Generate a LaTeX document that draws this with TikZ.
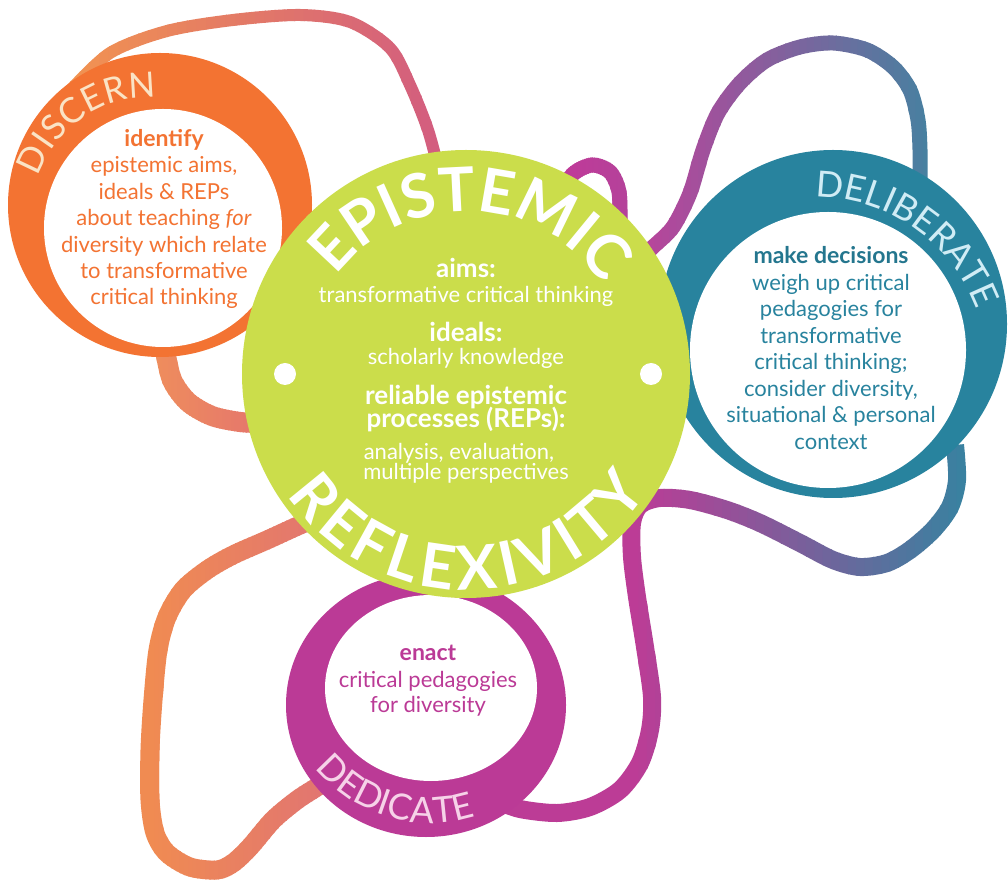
\documentclass[tikz,border=0pt]{standalone}
\usepackage{fontspec}
\setmainfont{Lato}
\usetikzlibrary{decorations.text}

\definecolor{epigreen}{RGB}{203,221,75}
\definecolor{discorange}{RGB}{243,115,50}
\definecolor{delibteal}{RGB}{40,131,158}
\definecolor{dedimagenta}{RGB}{187,58,150}
\definecolor{disclabel}{RGB}{250,227,197}
\definecolor{deliblabel}{RGB}{208,236,245}
\definecolor{dedilabel}{RGB}{246,210,232}
\definecolor{ribAleft}{RGB}{242,148,80}
\definecolor{ribAright}{RGB}{210,92,128}
\definecolor{ribBleft}{RGB}{239,142,92}
\definecolor{ribBright}{RGB}{228,116,110}
\definecolor{ribCleft}{RGB}{194,56,152}
\definecolor{ribCright}{RGB}{180,66,154}
\definecolor{ribDleft}{RGB}{185,68,155}
\definecolor{ribDright}{RGB}{72,128,160}
\definecolor{ribEleft}{RGB}{188,60,150}
\definecolor{ribEright}{RGB}{58,129,160}
\definecolor{ribFleft}{RGB}{240,139,82}
\definecolor{ribFright}{RGB}{226,118,112}

% ribbon in 40 vertical strips, colour goes from #4 (left) to #5 (right)
\newcommand{\ribbon}[6]{%
  \foreach \k in {0,...,39}{%
    \pgfmathsetmacro{\xa}{\k==0 ? 0 : #2+(#3-#2)*\k/40}%
    \pgfmathsetmacro{\xb}{\k==39 ? 1008 : #2+(#3-#2)*(\k+1)/40+1}%
    \pgfmathsetmacro{\mix}{100-100*\k/39}%
    \begin{scope}
      \clip (\xa,0) rectangle (\xb,881);
      \draw[band, line width=#6, draw=#4!\mix!#5] plot[smooth] coordinates {#1};
    \end{scope}
  }%
}

\begin{document}
\begin{tikzpicture}[x=1pt, y=1pt,
  band/.style={line cap=butt},
  body/.style={anchor=base, inner sep=0pt, font=\fontsize{22}{26}\selectfont},
  head/.style={anchor=base, inner sep=0pt, font=\fontsize{23}{26}\selectfont\bfseries},
  ghead/.style={anchor=base, inner sep=0pt, text=white, font=\fontsize{26}{28}\selectfont\bfseries},
  gbody/.style={body, text=white}]
\fill[white] (0,0) rectangle (1008,881);
\useasboundingbox (0,0) rectangle (1008,881);

\coordinate (gc) at (466,507);
\coordinate (oc) at (160,676);
\coordinate (oi) at (163,653);
\coordinate (tc) at (833,557);
\coordinate (ti) at (828,531);
\coordinate (mc) at (426,176);
\coordinate (mi) at (431,193);

% ribbons behind everything
\ribbon{(68,788) (110,828) (167,850) (233,861) (300,866) (350,859) (390,833) (410,796) (428,751) (440,706)}{60}{450}{ribAleft}{ribAright}{12pt}
\ribbon{(165,531) (172,501) (188,479) (212,465) (240,459) (262,458)}{150}{270}{ribBleft}{ribBright}{20pt}
\ribbon{(560,681) (572,706) (592,716) (610,709) (619,689) (620,656)}{550}{630}{ribCleft}{ribCright}{15pt}
\ribbon{(640,621) (653,634) (673,654) (690,688) (703,731) (718,768) (740,798) (767,821) (800,834) (833,838) (867,831) (893,814) (910,791) (918,761) (920,731) (920,700)}{640}{930}{ribDleft}{ribDright}{15pt}
\ribbon{(955,436) (957,401) (950,374) (933,351) (910,331) (887,318) (860,314) (833,321) (800,338) (760,358) (727,371) (690,381) (660,383) (640,376) (632,358) (632,324) (637,284) (645,234) (652,184) (650,151) (640,118) (620,91) (590,74) (557,68) (520,72) (495,81)}{630}{965}{ribEleft}{ribEright}{18pt}
\ribbon{(325,366) (300,356) (267,341) (233,326) (207,311) (183,291) (167,264) (158,231) (153,181) (150,131) (150,81) (155,48) (167,28) (190,14) (217,11) (233,18) (250,34) (273,61) (297,81) (317,94) (335,106)}{150}{320}{ribFleft}{ribFright}{19pt}

% rings
\fill[discorange] (oc) circle[radius=152];
\fill[white] (oi) circle[radius=119];
\fill[delibteal] (tc) circle[radius=174];
\fill[white] (ti) circle[radius=138];
\fill[dedimagenta] (mc) ellipse[x radius=140, y radius=132];
\fill[white] (mi) ellipse[x radius=106, y radius=93];

% centre disc
\fill[epigreen] (gc) circle[radius=224];
\fill[white] (285,507) circle[radius=11];
\fill[white] (651,507) circle[radius=11];

% words round the rings
\path[decorate, decoration={text along path, text color=disclabel, text align={fit to path},
  text={|\fontsize{35}{35}\selectfont|DISCERN}}] (150,666) ++(161:118) arc[start angle=161, end angle=87, radius=118];
\path[decorate, decoration={text along path, text color=deliblabel, text align={fit to path},
  text={|\fontsize{36}{36}\selectfont|DELIBERATE}}] (815,511) ++(90:173) arc[start angle=90, end angle=22, radius=173];
\path[decorate, decoration={text along path, text color=dedilabel, text align={fit to path},
  text={|\fontsize{36}{36}\selectfont|DEDICATE}}] (430,206) ++(219:148) arc[start angle=219, end angle=288, radius=148];
\path[decorate, decoration={text along path, text color=white, text align={fit to path},
  text={|\fontsize{61}{61}\selectfont\bfseries|EPISTEMIC}}] (gc) ++(143:163) arc[start angle=143, end angle=34, radius=163];
\path[decorate, decoration={text along path, text color=white, text align={fit to path},
  text={|\fontsize{61}{61}\selectfont\bfseries|REFLEXIVITY}}] (gc) ++(214:216) arc[start angle=214, end angle=327, radius=216];

% discern
\node[head, text=discorange] (disc0) at (164,734) {identify};
\foreach \yy/\lbl [count=\n] in {708/{epistemic aims,}, 681/{ideals \& REPs}, 655/{about teaching \textit{for}},
  628/{diversity which relate}, 602/{to transformative}, 576/{critical thinking}}
  \node[body, text=discorange] (disc\n) at (164,\yy) {\lbl};

% deliberate
\node[head, text=delibteal!90!black] (delib0) at (831,617) {make decisions};
\foreach \yy/\lbl [count=\n] in {590/{weigh up critical}, 564/{pedagogies for}, 537/{transformative},
  511/{critical thinking;}, 484/{consider diversity,}, 458/{situational \& personal}, 431/{context}}
  \node[body, text=delibteal] (delib\n) at (831,\yy) {\lbl};

% dedicate
\node[head, text=dedimagenta] (dedi0) at (428,221) {enact};
\node[body, text=dedimagenta] (dedi1) at (428,194) {critical pedagogies};
\node[body, text=dedimagenta] (dedi2) at (428,169) {for diversity};

% epistemic reflexivity
\node[ghead] (aims) at (466,603) {aims:};
\node[gbody] (aimstxt) at (466,578) {transformative critical thinking};
\node[ghead] (ideals) at (466,539) {ideals:};
\node[gbody] (idealstxt) at (466,516) {scholarly knowledge};
\node[ghead] (reps) at (466,476) {reliable epistemic};
\node[ghead] (reps2) at (466,453) {processes (REPs):};
\node[gbody] (repstxt) at (459,421) {analysis, evaluation,};
\node[gbody] (repstxt2) at (466,401) {multiple perspectives};
\end{tikzpicture}
\end{document}
